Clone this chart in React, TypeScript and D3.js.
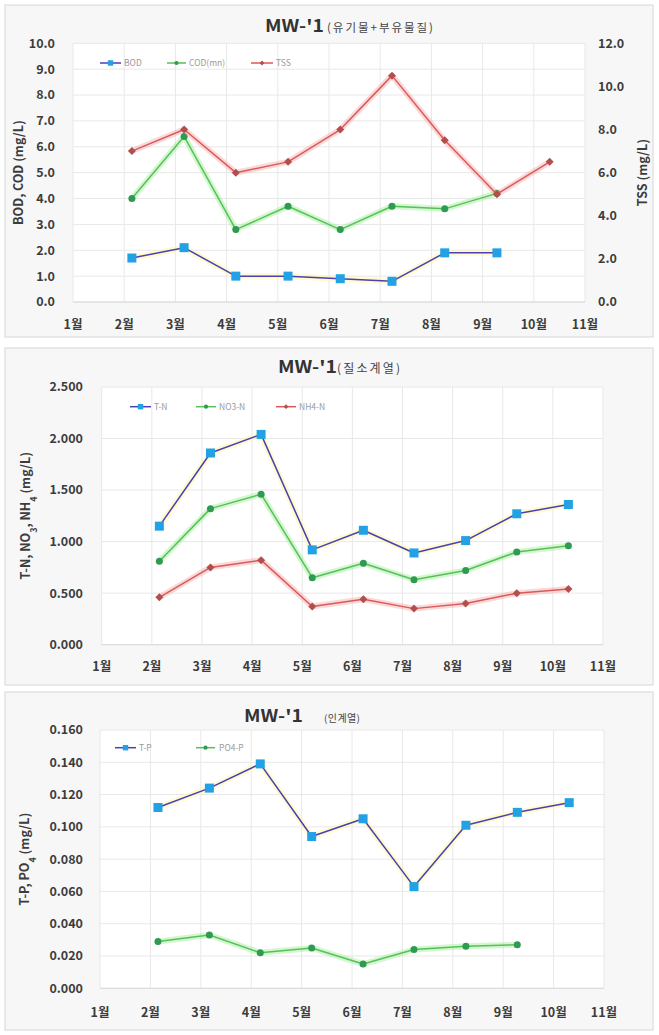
import React from 'react';
import * as d3 from 'd3';

// ---------- data ----------
const monthTicks = [1, 2, 3, 4, 5, 6, 7, 8, 9, 10, 11];
const monthLabels = monthTicks.map((m) => `${m}월`);
// sampling positions (fractional month on the date axis)
const sampleMonths = [2.15, 3.17, 4.18, 5.2, 6.22, 7.23, 8.26, 9.28, 10.31];

const bod = [1.7, 2.1, 1.0, 1.0, 0.9, 0.8, 1.9, 1.9, null];
const codMn = [4.0, 6.4, 2.8, 3.7, 2.8, 3.7, 3.6, 4.2, null];
const tss = [7.0, 8.0, 6.0, 6.5, 8.0, 10.5, 7.5, 5.0, 6.5];

const tn = [1.15, 1.86, 2.04, 0.92, 1.11, 0.89, 1.01, 1.27, 1.36];
const no3n = [0.81, 1.32, 1.46, 0.65, 0.79, 0.63, 0.72, 0.9, 0.96];
const nh4n = [0.46, 0.75, 0.82, 0.37, 0.44, 0.35, 0.4, 0.5, 0.54];

const tp = [0.112, 0.124, 0.139, 0.094, 0.105, 0.063, 0.101, 0.109, 0.115];
const po4p = [0.029, 0.033, 0.022, 0.025, 0.015, 0.024, 0.026, 0.027, null];

const ticks1Left = [0, 1, 2, 3, 4, 5, 6, 7, 8, 9, 10];
const ticks1Right = [0, 2, 4, 6, 8, 10, 12];
const ticks2 = [0, 0.5, 1.0, 1.5, 2.0, 2.5];
const ticks3 = [0, 0.02, 0.04, 0.06, 0.08, 0.1, 0.12, 0.14, 0.16];

// ---------- styles ----------
const FONT = "'Noto Sans CJK KR', 'Noto Sans', sans-serif";
const BLUE_LINE = '#4a3fb6';
const BLUE_MARK = '#22a2e4';
const GREEN_LINE = '#55c257';
const GREEN_MARK = '#2f9a52';
const RED_LINE = '#d95a58';
const RED_MARK = '#b24f4c';

type Marker = 'square' | 'circle' | 'diamond';
interface SeriesCfg {
  name: string;
  values: (number | null)[];
  line: string;
  glow: string;
  marker: Marker;
  fill: string;
  size: number;
  right?: boolean;
  legend: [number, number, number];
}
interface PanelCfg {
  box: { x: number; y: number; w: number; h: number };
  plot: { l: number; r: number; t: number; b: number };
  yDomain: [number, number];
  yTicks: number[];
  yFmt: (v: number) => string;
  y2Domain?: [number, number];
  y2Ticks?: number[];
  yLabelX: number;
  y2LabelX?: number;
  yTitle: React.ReactNode;
  yTitleX: number;
  y2Title?: string;
  y2TitleX?: number;
  title: { x: number; y: number; mainLen: number; sub: string; subX: number; subLen: number; subSize: number };
  legendY: number;
  xLabelDy: number;
  series: SeriesCfg[];
}

const fmt1 = (v: number) => v.toFixed(1);
const fmt3 = (v: number) => v.toFixed(3);

const panels: PanelCfg[] = [
  {
    box: { x: 5, y: 5, w: 648, h: 332 },
    plot: { l: 73, r: 585, t: 43.3, b: 302 },
    yDomain: [0, 10],
    yTicks: ticks1Left,
    yFmt: fmt1,
    y2Domain: [0, 12],
    y2Ticks: ticks1Right,
    yLabelX: 55,
    y2LabelX: 598,
    yTitle: 'BOD, COD (mg/L)',
    yTitleX: 19,
    y2Title: 'TSS (mg/L)',
    y2TitleX: 643,
    title: { x: 265, y: 32, mainLen: 59, sub: '(유기물+부유물질)', subX: 327, subLen: 106, subSize: 11.5 },
    legendY: 63,
    xLabelDy: 27,
    series: [
      { name: 'BOD', values: bod, line: BLUE_LINE, glow: 'rgba(255,246,170,0.55)', marker: 'square', fill: BLUE_MARK, size: 9, legend: [100, 121, 124] },
      { name: 'COD(mn)', values: codMn, line: GREEN_LINE, glow: 'rgba(160,235,150,0.45)', marker: 'circle', fill: GREEN_MARK, size: 7, legend: [167, 186, 189] },
      { name: 'TSS', values: tss, line: RED_LINE, glow: 'rgba(245,160,160,0.40)', marker: 'diamond', fill: RED_MARK, size: 8, right: true, legend: [251, 273, 276] },
    ],
  },
  {
    box: { x: 5, y: 348, w: 648, h: 337 },
    plot: { l: 101.7, r: 603, t: 387, b: 644.7 },
    yDomain: [0, 2.5],
    yTicks: ticks2,
    yFmt: fmt3,
    yLabelX: 83,
    yTitle: (
      <>
        T-N, NO<tspan baselineShift="sub" fontSize="9">3</tspan>, NH<tspan baselineShift="sub" fontSize="9">4</tspan> (mg/L)
      </>
    ),
    yTitleX: 26,
    title: { x: 278, y: 373, mainLen: 59, sub: '(질소계열)', subX: 337, subLen: 63, subSize: 12 },
    legendY: 406.7,
    xLabelDy: 26,
    series: [
      { name: 'T-N', values: tn, line: BLUE_LINE, glow: 'rgba(255,246,170,0.55)', marker: 'square', fill: BLUE_MARK, size: 9, legend: [130, 151, 154] },
      { name: 'NO3-N', values: no3n, line: GREEN_LINE, glow: 'rgba(160,235,150,0.45)', marker: 'circle', fill: GREEN_MARK, size: 7, legend: [196, 216, 219] },
      { name: 'NH4-N', values: nh4n, line: RED_LINE, glow: 'rgba(245,160,160,0.40)', marker: 'diamond', fill: RED_MARK, size: 8, legend: [276, 296, 299] },
    ],
  },
  {
    box: { x: 5, y: 692, w: 648, h: 338 },
    plot: { l: 100, r: 604, t: 730, b: 988.3 },
    yDomain: [0, 0.16],
    yTicks: ticks3,
    yFmt: fmt3,
    yLabelX: 83,
    yTitle: (
      <>
        T-P, PO<tspan baselineShift="sub" fontSize="9">4</tspan> (mg/L)
      </>
    ),
    yTitleX: 25,
    title: { x: 244, y: 722, mainLen: 59, sub: '(인계열)', subX: 324, subLen: 36, subSize: 10 },
    legendY: 747.7,
    xLabelDy: 29,
    series: [
      { name: 'T-P', values: tp, line: BLUE_LINE, glow: 'rgba(255,246,170,0.55)', marker: 'square', fill: BLUE_MARK, size: 9, legend: [115, 136, 139] },
      { name: 'PO4-P', values: po4p, line: GREEN_LINE, glow: 'rgba(160,235,150,0.45)', marker: 'circle', fill: GREEN_MARK, size: 7, legend: [196, 215, 219] },
    ],
  },
];

function MarkerShape({ type, cx, cy, size, fill }: { type: Marker; cx: number; cy: number; size: number; fill: string }) {
  if (type === 'square') {
    return <rect x={cx - size / 2} y={cy - size / 2} width={size} height={size} fill={fill} />;
  }
  if (type === 'circle') {
    return <circle cx={cx} cy={cy} r={size / 2} fill={fill} />;
  }
  const s = size / 2;
  return <path d={`M${cx},${cy - s}L${cx + s},${cy}L${cx},${cy + s}L${cx - s},${cy}Z`} fill={fill} />;
}

function Panel({ cfg }: { cfg: PanelCfg }) {
  const { plot } = cfg;
  const x = d3.scaleLinear().domain([1, 11]).range([plot.l, plot.r]);
  const y = d3.scaleLinear().domain(cfg.yDomain).range([plot.b, plot.t]);
  const y2 = cfg.y2Domain ? d3.scaleLinear().domain(cfg.y2Domain).range([plot.b, plot.t]) : null;
  const yMid = (plot.t + plot.b) / 2;

  return (
    <g>
      <rect x={cfg.box.x} y={cfg.box.y} width={cfg.box.w} height={cfg.box.h} fill="#f7f7f7" stroke="#d6d6d6" strokeWidth={1} />
      <rect x={plot.l} y={plot.t} width={plot.r - plot.l} height={plot.b - plot.t} fill="#ffffff" />
      {/* grid */}
      {cfg.yTicks.map((t) => (
        <line key={'h' + t} x1={plot.l} x2={plot.r} y1={y(t)} y2={y(t)} stroke="#e8e8e8" strokeWidth={1} />
      ))}
      {monthTicks.map((m) => (
        <line key={'v' + m} x1={x(m)} x2={x(m)} y1={plot.t} y2={plot.b} stroke="#e8e8e8" strokeWidth={1} />
      ))}
      <line x1={plot.l} x2={plot.r} y1={plot.b} y2={plot.b} stroke="#d9d9d9" strokeWidth={1} />
      {/* title */}
      <text x={cfg.title.x} y={cfg.title.y} fontFamily={FONT} fontWeight="bold" fontSize={17} fill="#333" textLength={cfg.title.mainLen} lengthAdjust="spacingAndGlyphs">
        MW-'1
      </text>
      <text x={cfg.title.subX} y={cfg.title.y} fontFamily={FONT} fontSize={cfg.title.subSize} fill="#444" textLength={cfg.title.subLen} lengthAdjust="spacing">
        {cfg.title.sub}
      </text>
      {/* y labels */}
      {cfg.yTicks.map((t) => (
        <text key={'yl' + t} x={cfg.yLabelX} y={y(t)} dy="0.35em" textAnchor="end" fontFamily={FONT} fontWeight="bold" fontSize={12.5} fill="#3c3c3c">
          {cfg.yFmt(t)}
        </text>
      ))}
      {y2 && cfg.y2Ticks &&
        cfg.y2Ticks.map((t) => (
          <text key={'y2l' + t} x={cfg.y2LabelX} y={y2(t)} dy="0.35em" textAnchor="start" fontFamily={FONT} fontWeight="bold" fontSize={12.5} fill="#3c3c3c">
            {fmt1(t)}
          </text>
        ))}
      {/* x labels */}
      {monthTicks.map((m, i) => (
        <text key={'xl' + m} x={x(m)} y={plot.b + cfg.xLabelDy} textAnchor="middle" fontFamily={FONT} fontWeight="bold" fontSize={12.5} fill="#3c3c3c">
          {monthLabels[i]}
        </text>
      ))}
      {/* axis titles */}
      <text transform={`translate(${cfg.yTitleX},${yMid}) rotate(-90)`} textAnchor="middle" dy="0.35em" fontFamily={FONT} fontWeight="bold" fontSize={12.5} fill="#3c3c3c">
        {cfg.yTitle}
      </text>
      {cfg.y2Title && (
        <text transform={`translate(${cfg.y2TitleX},${yMid}) rotate(-90)`} textAnchor="middle" dy="0.35em" fontFamily={FONT} fontWeight="bold" fontSize={12.5} fill="#3c3c3c">
          {cfg.y2Title}
        </text>
      )}
      {/* series */}
      {cfg.series.map((s) => {
        const sc = s.right && y2 ? y2 : y;
        const pts: [number, number | null][] = sampleMonths.map((m, i) => [m, s.values[i]]);
        const line = d3
          .line<[number, number | null]>()
          .defined((d) => d[1] != null)
          .x((d) => x(d[0]))
          .y((d) => sc(d[1] as number));
        const path = line(pts) || '';
        return (
          <g key={s.name}>
            <path d={path} fill="none" stroke={s.glow} strokeWidth={6} strokeLinejoin="round" />
            <path d={path} fill="none" stroke={s.line} strokeWidth={1.5} strokeLinejoin="round" />
            {pts
              .filter((d) => d[1] != null)
              .map((d, i) => (
                <MarkerShape key={i} type={s.marker} cx={x(d[0])} cy={sc(d[1] as number)} size={s.size} fill={s.fill} />
              ))}
          </g>
        );
      })}
      {/* legend */}
      {cfg.series.map((s) => (
        <g key={'lg' + s.name}>
          <line x1={s.legend[0]} x2={s.legend[1]} y1={cfg.legendY} y2={cfg.legendY} stroke={s.line} strokeWidth={1.5} />
          <MarkerShape type={s.marker} cx={(s.legend[0] + s.legend[1]) / 2} cy={cfg.legendY} size={s.size * 0.6} fill={s.fill} />
          <text x={s.legend[2]} y={cfg.legendY} dy="0.35em" fontFamily={FONT} fontSize={8.5} fill="#9a9a9a">
            {s.name}
          </text>
        </g>
      ))}
    </g>
  );
}

export default function App() {
  return (
    <div style={{ position: 'absolute', left: 0, top: 0 }}>
      <svg width={659} height={1035} viewBox="0 0 659 1035" style={{ display: 'block', background: '#ffffff' }}>
        {panels.map((p, i) => (
          <Panel key={i} cfg={p} />
        ))}
      </svg>
    </div>
  );
}
